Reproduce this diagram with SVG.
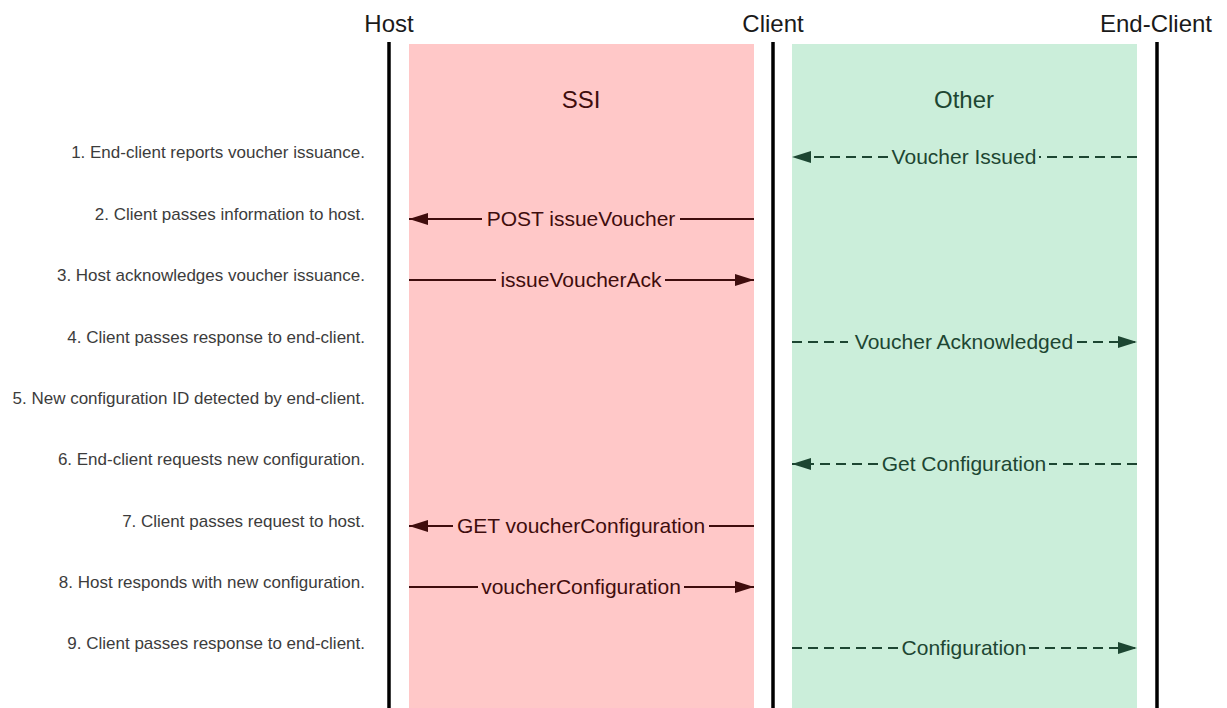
<svg xmlns="http://www.w3.org/2000/svg" width="1227" height="708" viewBox="0 0 1227 708">
<style>
.hdr{font-family:"Liberation Sans",Arial,sans-serif;font-size:24px;fill:#1a1a1a;text-anchor:middle}
.zone{font-family:"Liberation Sans",Arial,sans-serif;font-size:24px;text-anchor:middle}
.step{font-family:"Liberation Sans",Arial,sans-serif;font-size:17px;fill:#3c3c3c;text-anchor:end}
.msg{font-family:"Liberation Sans",Arial,sans-serif;font-size:21px;text-anchor:middle}
.red{fill:#3f0d0d}
.grn{fill:#1d4632}
.life{stroke:#000;stroke-width:3.5;fill:none}
.sol{stroke:#3f0d0d;stroke-width:2;fill:none}
.dsh{stroke:#1d4632;stroke-width:2;fill:none;stroke-dasharray:10 6}
</style>
<defs>
<marker id="ahR" viewBox="0 0 19 12" refX="19" refY="6" markerWidth="19" markerHeight="12" markerUnits="userSpaceOnUse" orient="auto">
<path d="M0,0 L19,6 L0,12 z" fill="#3f0d0d"/>
</marker>
<marker id="ahG" viewBox="0 0 19 12" refX="19" refY="6" markerWidth="19" markerHeight="12" markerUnits="userSpaceOnUse" orient="auto">
<path d="M0,0 L19,6 L0,12 z" fill="#1d4632"/>
</marker>
</defs>
<rect width="1227" height="708" fill="#fff"/>

<g id="zone-ssi">
<rect x="409" y="44" width="345" height="664" fill="#FFC8C8"/>
<text class="zone red" x="581" y="108">SSI</text>
</g>
<g id="zone-other">
<rect x="792" y="44" width="345" height="664" fill="#CBEEDA"/>
<text class="zone grn" x="964" y="108">Other</text>
</g>

<g id="host">
<text class="hdr" x="389" y="32">Host</text>
<line class="life" x1="389" y1="42" x2="389" y2="708"/>
</g>
<g id="client">
<text class="hdr" x="773" y="32">Client</text>
<line class="life" x1="773" y1="42" x2="773" y2="708"/>
</g>
<g id="end-client">
<text class="hdr" x="1156" y="32">End-Client</text>
<line class="life" x1="1157" y1="42" x2="1157" y2="708"/>
</g>

<g id="steps">
<text class="step" x="365" y="158">1. End-client reports voucher issuance.</text>
<text class="step" x="365" y="220">2. Client passes information to host.</text>
<text class="step" x="365" y="281">3. Host acknowledges voucher issuance.</text>
<text class="step" x="365" y="343">4. Client passes response to end-client.</text>
<text class="step" x="365" y="404">5. New configuration ID detected by end-client.</text>
<text class="step" x="365" y="465">6. End-client requests new configuration.</text>
<text class="step" x="365" y="527">7. Client passes request to host.</text>
<text class="step" x="365" y="588">8. Host responds with new configuration.</text>
<text class="step" x="365" y="649">9. Client passes response to end-client.</text>
</g>

<g id="connectors">
<!-- 1 Voucher Issued: End-Client -> Client -->
<line class="dsh" x1="1137" y1="157" x2="1039" y2="157"/>
<line class="dsh" x1="888" y1="157" x2="792" y2="157" marker-end="url(#ahG)"/>
<text class="msg grn" x="964" y="164">Voucher Issued</text>
<!-- 2 POST issueVoucher: Client -> Host -->
<line class="sol" x1="754" y1="219" x2="680" y2="219"/>
<line class="sol" x1="482" y1="219" x2="409" y2="219" marker-end="url(#ahR)"/>
<text class="msg red" x="581" y="226">POST issueVoucher</text>
<!-- 3 issueVoucherAck: Host -> Client -->
<line class="sol" x1="409" y1="280" x2="496" y2="280"/>
<line class="sol" x1="665" y1="280" x2="754" y2="280" marker-end="url(#ahR)"/>
<text class="msg red" x="581" y="287">issueVoucherAck</text>
<!-- 4 Voucher Acknowledged: Client -> End-Client -->
<line class="dsh" x1="792" y1="342" x2="848" y2="342"/>
<line class="dsh" x1="1077" y1="342" x2="1137" y2="342" marker-end="url(#ahG)"/>
<text class="msg grn" x="964" y="349">Voucher Acknowledged</text>
<!-- 6 Get Configuration: End-Client -> Client -->
<line class="dsh" x1="1137" y1="464" x2="1049" y2="464"/>
<line class="dsh" x1="878" y1="464" x2="792" y2="464" marker-end="url(#ahG)"/>
<text class="msg grn" x="964" y="471">Get Configuration</text>
<!-- 7 GET voucherConfiguration: Client -> Host -->
<line class="sol" x1="754" y1="526" x2="709" y2="526"/>
<line class="sol" x1="453" y1="526" x2="409" y2="526" marker-end="url(#ahR)"/>
<text class="msg red" x="581" y="533">GET voucherConfiguration</text>
<!-- 8 voucherConfiguration: Host -> Client -->
<line class="sol" x1="409" y1="587" x2="478" y2="587"/>
<line class="sol" x1="684" y1="587" x2="754" y2="587" marker-end="url(#ahR)"/>
<text class="msg red" x="581" y="594">voucherConfiguration</text>
<!-- 9 Configuration: Client -> End-Client -->
<line class="dsh" x1="792" y1="648" x2="898" y2="648"/>
<line class="dsh" x1="1029" y1="648" x2="1137" y2="648" marker-end="url(#ahG)"/>
<text class="msg grn" x="964" y="655">Configuration</text>
</g>
</svg>
